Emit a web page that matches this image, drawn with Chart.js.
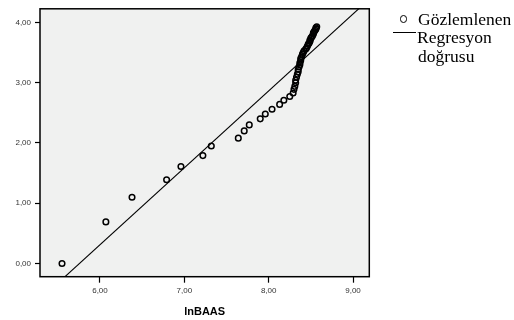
<!DOCTYPE html>
<html>
<head>
<meta charset="utf-8">
<script src="https://cdn.jsdelivr.net/npm/chart.js@4/dist/chart.umd.min.js"></script>
<style>
    html, body { margin: 0; padding: 0; background: #fff; }
    #wrap { position: relative; width: 514px; height: 320px; }
    #chart { position: absolute; left: 0; top: 0; }
    .leg { position: absolute; font-family: "Liberation Serif", "Times New Roman", serif; font-size: 17.5px; line-height: 19px; color: #000; white-space: nowrap; }
    .legCircle { position: absolute; width: 5.5px; height: 5.5px; border: 1.3px solid #000; border-radius: 50%; }
    .legLine { position: absolute; height: 0; border-top: 1.2px solid #000; }
</style>
</head>
<body>
<div id="wrap">
    <canvas id="chart" width="514" height="320"></canvas>
    <span class="legCircle" style="left:399.5px; top:15px;"></span>
    <div class="leg" style="left:418px; top:9.5px;">Gözlemlenen</div>
    <span class="legLine" style="left:393px; top:32px; width:23px;"></span>
    <div class="leg" style="left:417px; top:28px;">Regresyon</div>
    <div class="leg" style="left:418px; top:47px;">doğrusu</div>
</div>
<script>
const lnBaas = [
    5.55, 6.07, 6.38, 6.79, 6.96, 7.22, 7.32, 7.64, 7.71, 7.77,
    7.90, 7.96, 8.04, 8.13, 8.18, 8.25, 8.29, 8.30, 8.31, 8.32,
    8.32, 8.33, 8.34, 8.35, 8.35, 8.36, 8.37, 8.37, 8.38, 8.38,
    8.39, 8.40, 8.41, 8.42, 8.44, 8.45, 8.46, 8.47, 8.48, 8.49,
    8.49, 8.50, 8.51, 8.52, 8.53, 8.53, 8.54, 8.55, 8.56, 8.56,
    8.57
];
const observed = [
    0.00, 0.69, 1.10, 1.39, 1.61, 1.79, 1.95, 2.08, 2.20, 2.30,
    2.40, 2.48, 2.56, 2.64, 2.71, 2.77, 2.83, 2.89, 2.94, 3.00,
    3.04, 3.09, 3.14, 3.18, 3.22, 3.26, 3.30, 3.33, 3.37, 3.40,
    3.43, 3.47, 3.50, 3.53, 3.56, 3.58, 3.61, 3.64, 3.66, 3.69,
    3.71, 3.74, 3.76, 3.78, 3.81, 3.83, 3.85, 3.87, 3.89, 3.91,
    3.93
];
const xTicks = [6, 7, 8, 9];
const yTicks = [0, 1, 2, 3, 4];
const regSlope = 1.277;
const regIntercept = -7.352;
const xRange = [5.289, 9.193];
const yRange = [-0.22, 4.227];

const fmt = v => Number(v).toFixed(2).replace(".", ",");

const frame = {
    id: "frame",
    beforeDatasetsDraw(chart) {
        const { ctx, chartArea: a } = chart;
        ctx.save();
        ctx.fillStyle = "#f0f1f0";
        ctx.fillRect(a.left, a.top, a.right - a.left, a.bottom - a.top);
        ctx.restore();
    },
    afterDraw(chart) {
        const { ctx, chartArea: a } = chart;
        ctx.save();
        ctx.strokeStyle = "#000";
        ctx.lineWidth = 1.5;
        ctx.strokeRect(a.left, a.top, a.right - a.left, a.bottom - a.top);
        ctx.restore();
    }
};

const regLine = [xRange[0], xRange[1]].map(x => ({ x, y: regIntercept + regSlope * x }));

new Chart(document.getElementById("chart"), {
    type: "scatter",
    data: {
        datasets: [
            {
                label: "Gözlemlenen",
                data: lnBaas.map((x, i) => ({ x, y: observed[i] })),
                pointStyle: "circle",
                pointRadius: 2.8,
                borderWidth: 1.5,
                borderColor: "#000",
                backgroundColor: "rgba(0,0,0,0)",
                order: 1
            },
            {
                label: "Regresyon doğrusu",
                type: "line",
                data: regLine,
                borderColor: "#000",
                borderWidth: 1.1,
                pointRadius: 0,
                fill: false,
                order: 2
            }
        ]
    },
    options: {
        responsive: false,
        animation: false,
        events: [],
        layout: { padding: { left: 0, top: 8, right: 144.7, bottom: 0 } },
        plugins: { legend: { display: false }, tooltip: { enabled: false } },
        scales: {
            x: {
                type: "linear",
                min: xRange[0],
                max: xRange[1],
                afterBuildTicks: s => { s.ticks = xTicks.map(v => ({ value: v })); },
                afterFit: s => { s.height = 43.3; },
                grid: { drawOnChartArea: false, drawTicks: true, tickLength: 6, tickColor: "#000", tickWidth: 1.2 },
                border: { display: false },
                ticks: { padding: 3, color: "#333", font: { family: "Arial, Liberation Sans", size: 8 }, callback: v => fmt(v), maxRotation: 0 },
                title: { display: true, text: "lnBAAS", color: "#000", font: { family: "Arial, Liberation Sans", size: 11, weight: "bold" }, padding: { top: 0, bottom: 1 } }
            },
            y: {
                type: "linear",
                min: yRange[0],
                max: yRange[1],
                afterBuildTicks: s => { s.ticks = yTicks.map(v => ({ value: v })); },
                afterFit: s => { s.width = 40; },
                grid: { drawOnChartArea: false, drawTicks: true, tickLength: 5, tickColor: "#000", tickWidth: 1.2 },
                border: { display: false },
                ticks: { padding: 4, color: "#333", font: { family: "Arial, Liberation Sans", size: 8 }, callback: v => fmt(v) }
            }
        }
    },
    plugins: [frame]
});
</script>
</body>
</html>
